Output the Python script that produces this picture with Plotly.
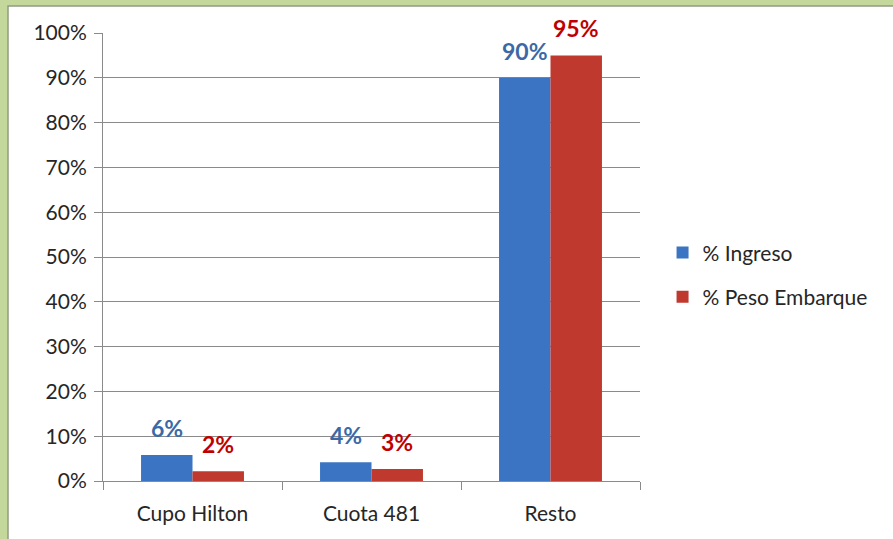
import plotly.graph_objects as go

categories = ["Cupo Hilton", "Cuota 481", "Resto"]
ingreso = [0.058, 0.042, 0.90]
peso_embarque = [0.022, 0.027, 0.95]
series_names = ["% Ingreso", "% Peso Embarque"]
tick_vals = [i / 10 for i in range(11)]
tick_text = [f"{i * 10}%" for i in range(11)]

BLUE, RED = "#3b74c2", "#c0392f"
BLUE_TXT, RED_TXT = "#3c69a6", "#c00000"
GRID, FRAME_GREEN = "#8a8a8a", "#c4d89c"
FONT = "Lato, Open Sans, sans-serif"

fig = go.Figure()
for name, vals, col, grp in [(series_names[0], ingreso, BLUE, "a"),
                             (series_names[1], peso_embarque, RED, "b")]:
    fig.add_trace(go.Bar(x=categories, y=vals, name=name, legendgroup=grp,
                         marker=dict(color=col, line=dict(width=0))))

# data labels sit above each bar
bar_px = 51.5
for vals, col, side in [(ingreso, BLUE_TXT, -0.5), (peso_embarque, RED_TXT, 0.5)]:
    for c, v in zip(categories, vals):
        fig.add_annotation(x=c, y=v, text=f"<b>{round(v * 100):.0f}%</b>", showarrow=False,
                           xshift=side * bar_px, yshift=11, yanchor="bottom",
                           font=dict(size=23, color=col, family=FONT))

# green frame around the white chart panel
fig.add_shape(type="rect", xref="paper", yref="paper", x0=-0.3, x1=1.6, y0=-0.2, y1=1.1,
              fillcolor=FRAME_GREEN, line=dict(width=0), layer="below")
fig.add_shape(type="rect", xref="paper", yref="paper",
              x0=(8 - 103) / 537, x1=(900 - 103) / 537, y0=(481 - 545) / 448, y1=(481 - 6) / 448,
              fillcolor="white", line=dict(width=1.5, color="#8e9c82"), layer="below")

fig.update_layout(
    width=893, height=539, paper_bgcolor="white", plot_bgcolor="rgba(0,0,0,0)",
    margin=dict(l=103, r=253, t=33, b=58),
    barmode="group", bargap=0.425, bargroupgap=0,
    font=dict(family=FONT, size=21, color="#262626"),
    xaxis=dict(showline=True, linecolor=GRID, ticks="outside", tickson="boundaries",
               ticklen=8, tickcolor=GRID, showgrid=False, tickfont=dict(size=21),
               ticklabelstandoff=14, automargin=False),
    yaxis=dict(range=[0, 1], tickvals=tick_vals, ticktext=tick_text, showline=True,
               linecolor=GRID, ticks="outside", ticklen=8, tickcolor=GRID,
               showgrid=True, gridcolor=GRID, gridwidth=1, zeroline=False,
               tickfont=dict(size=21), ticklabelstandoff=3, automargin=False),
    legend=dict(x=1.042, y=0.46, xanchor="left", yanchor="middle", traceorder="grouped",
                tracegroupgap=14, font=dict(size=21), bgcolor="rgba(0,0,0,0)"),
)

fig.write_html("out.html", config={"displayModeBar": False},
               post_script="document.body.style.margin='0';")
